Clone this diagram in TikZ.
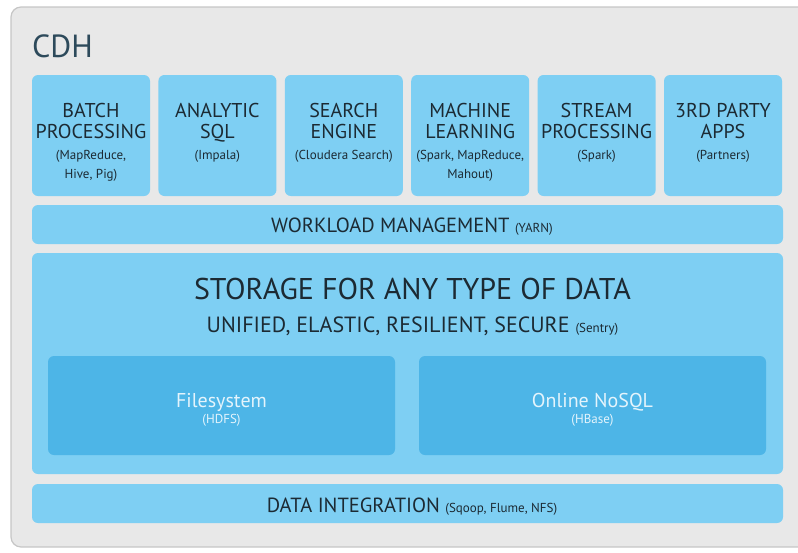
\documentclass[tikz,border=0pt]{standalone}
\usepackage{fontspec}
\setmainfont{PT Sans}
\usetikzlibrary{positioning}
\definecolor{cdhpale}{HTML}{7ECFF3}
\definecolor{cdhdeep}{HTML}{4DB5E7}
\definecolor{cdhframe}{HTML}{E8E8E8}
\definecolor{cdhline}{HTML}{C6C6C6}
\definecolor{cdhink}{HTML}{1C2A33}
\definecolor{cdhtitle}{HTML}{2D4A5B}
\definecolor{cdhsoft}{HTML}{E4F4FC}
\newcommand{\headfont}{\fontsize{20}{21}\selectfont}
\newcommand{\notefont}{\fontsize{13}{15}\selectfont}

\begin{document}
\begin{tikzpicture}[x=1pt,y=-1pt,
  tile/.style={fill=cdhpale,rounded corners=6pt,draw=none,inner sep=0pt},
  deeptile/.style={fill=cdhdeep,rounded corners=6pt,draw=none,inner sep=0pt},
  words/.style={text=cdhink,align=center,inner sep=0pt}]
\useasboundingbox (0,0) rectangle (798,552);
% frame
\draw[cdhline,line width=1.2pt,fill=cdhframe,rounded corners=10pt](11,7) rectangle (812,547);
\node[anchor=base west,inner sep=0pt,text=cdhtitle,font=\fontsize{32}{32}\selectfont] (cdh) at (32,57) {CDH};
% engines on top
\foreach \n/\x/\ha/\hb/\na/\nb in {batch/91/BATCH/PROCESSING/{(MapReduce,}/{Hive, Pig)},
  analytic/217.4/ANALYTIC/SQL/(Impala)/{},
  search/343.8/SEARCH/ENGINE/(Cloudera Search)/{},
  machine/470.2/MACHINE/LEARNING/{(Spark, MapReduce,}/Mahout),
  stream/596.6/STREAM/PROCESSING/(Spark)/{},
  party/723/3RD PARTY/APPS/(Partners)/{}}
{\node[tile,minimum width=118,minimum height=121] (\n) at (\x,135.5) {};
 \node[words,anchor=north,font=\headfont] (\n-txt) at (\x,103.5) {\ha\\\hb\\[0pt]{\notefont\na}\\[-2pt]{\notefont\nb}};
}
% layers
\node[tile,minimum width=751,minimum height=39] (yarn) at (407.5,224.5) {};
\node[words,font=\fontsize{20.5}{21}\selectfont] (yarn-txt) at (412,227) {WORKLOAD MANAGEMENT {\notefont(YARN)}};
\node[tile,minimum width=751,minimum height=221] (storage) at (407.5,363.5) {};
\node[words,font=\fontsize{30}{30}\selectfont] (storage-txt) at (412.5,289) {STORAGE FOR ANY TYPE OF DATA};
\node[words,font=\fontsize{22}{22}\selectfont] (storage-sub) at (412.5,326) {UNIFIED, ELASTIC, RESILIENT, SECURE {\notefont(Sentry)}};
\node[deeptile,minimum width=347,minimum height=99] (hdfs) at (221.5,405.5) {};
\node[words,text=cdhsoft] (hdfs-txt) at (221.5,410) {{\fontsize{20}{20}\selectfont Filesystem}\\[2pt]{\notefont(HDFS)}};
\node[deeptile,minimum width=347,minimum height=99] (hbase) at (592.5,405.5) {};
\node[words,text=cdhsoft] (hbase-txt) at (592.5,410) {{\fontsize{20}{20}\selectfont Online NoSQL}\\[2pt]{\notefont(HBase)}};
\node[tile,minimum width=751,minimum height=39] (ingest) at (407.5,503.5) {};
\node[words,font=\fontsize{20.5}{21}\selectfont] (ingest-txt) at (412,507) {DATA INTEGRATION {\notefont(Sqoop, Flume, NFS)}};
\end{tikzpicture}
\end{document}
